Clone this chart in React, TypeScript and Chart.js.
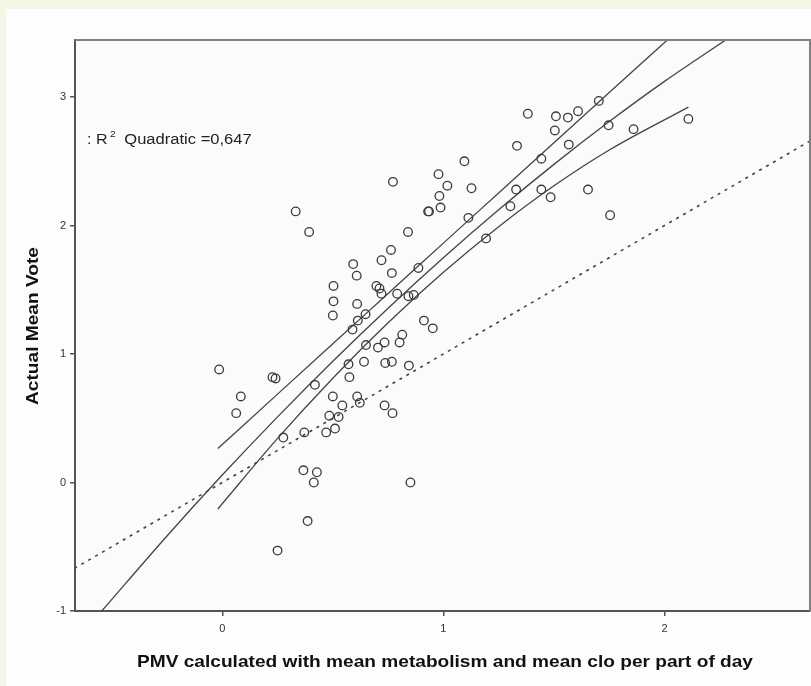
import React, { useEffect, useRef } from 'react';
import { Chart, registerables } from 'chart.js';

Chart.register(...registerables);

// Scatter points: PMV (x) vs Actual Mean Vote (y)
const pmv = [
  -0.014, 0.063, 0.084, 0.227, 0.241, 0.25, 0.276, 0.332, 0.367, 0.371, 0.386, 0.393, 0.414, 0.419,
  0.428, 0.47, 0.484, 0.5, 0.503, 0.503, 0.5, 0.51, 0.526, 0.543, 0.571, 0.575, 0.589, 0.592, 0.608,
  0.61, 0.613, 0.61, 0.622, 0.641, 0.648, 0.65, 0.697, 0.711, 0.72, 0.72, 0.704, 0.734, 0.737, 0.734,
  0.763, 0.767, 0.767, 0.772, 0.77, 0.791, 0.802, 0.814, 0.84, 0.844, 0.851, 0.842, 0.866, 0.887,
  0.912, 0.931, 0.935, 0.952, 0.978, 0.982, 0.987, 1.018, 1.095, 1.113, 1.127, 1.193, 1.303, 1.329,
  1.333, 1.382, 1.443, 1.443, 1.485, 1.504, 1.509, 1.563, 1.567, 1.609, 1.654, 1.703, 1.747, 1.754,
  1.86, 2.108,
];
const amv = [
  0.88, 0.54, 0.67, 0.82, 0.81, -0.53, 0.35, 2.11, 0.095, 0.39, -0.3, 1.95, 0.0, 0.76,
  0.08, 0.39, 0.52, 0.67, 1.53, 1.41, 1.3, 0.42, 0.51, 0.6, 0.92, 0.82, 1.19, 1.7, 1.61,
  1.39, 1.26, 0.67, 0.62, 0.94, 1.31, 1.07, 1.53, 1.51, 1.47, 1.73, 1.05, 1.09, 0.93, 0.6,
  1.81, 1.63, 0.94, 2.34, 0.54, 1.47, 1.09, 1.15, 1.95, 0.91, 0.0, 1.45, 1.46, 1.67,
  1.26, 2.11, 2.11, 1.2, 2.4, 2.23, 2.14, 2.31, 2.5, 2.06, 2.29, 1.9, 2.15, 2.28,
  2.62, 2.87, 2.28, 2.52, 2.22, 2.74, 2.85, 2.84, 2.63, 2.89, 2.28, 2.97, 2.78, 2.08,
  2.75, 2.83,
];

// Quadratic fit line
const fitX = [-0.545, -0.25, 0, 0.25, 0.5, 0.75, 1.0, 1.25, 1.5, 1.75, 2.0, 2.281];
const fitY = [-1.0, -0.416, 0.058, 0.511, 0.944, 1.357, 1.75, 2.123, 2.476, 2.809, 3.122, 3.449];

// Upper confidence band
const upperX = [-0.02, 0.25, 0.5, 0.75, 1.0, 1.25, 1.5, 1.75, 2.02];
const upperY = [0.264, 0.688, 1.08, 1.471, 1.863, 2.254, 2.645, 3.035, 3.455];

// Lower confidence band
const lowerX = [-0.02, 0.25, 0.5, 0.75, 1.0, 1.25, 1.5, 1.75, 2.108];
const lowerY = [-0.206, 0.343, 0.812, 1.243, 1.636, 1.991, 2.309, 2.588, 2.922];

// Reference line (PMV = AMV)
const refX = [-0.7, 2.7];
const refY = [-0.7, 2.7];

const xTicks = [0, 1, 2];
const yTicks = [-1, 0, 1, 2, 3];

const xTitle = 'PMV calculated with mean metabolism and mean clo per part of day';
const yTitle = 'Actual Mean Vote';
const r2Label = '0,647';

const FONT = '"Liberation Sans", Arial, sans-serif';

function zip(xs: number[], ys: number[]) {
  return xs.map((x, i) => ({ x, y: ys[i] }));
}

function scaledText(
  ctx: CanvasRenderingContext2D,
  text: string,
  x: number,
  y: number,
  font: string,
  targetWidth: number,
  align: 'left' | 'center'
) {
  ctx.save();
  ctx.font = font;
  ctx.textAlign = 'left';
  ctx.textBaseline = 'alphabetic';
  const w = ctx.measureText(text).width;
  const sx = targetWidth / w;
  const x0 = align === 'center' ? x - targetWidth / 2 : x;
  ctx.translate(x0, y);
  ctx.scale(sx, 1);
  ctx.fillText(text, 0, 0);
  ctx.restore();
}

export default function App() {
  const ref = useRef<HTMLCanvasElement | null>(null);

  useEffect(() => {
    const canvas = ref.current;
    if (!canvas) return;

    const decor = {
      id: 'decor',
      beforeDraw(chart: any) {
        const ctx = chart.ctx as CanvasRenderingContext2D;
        ctx.save();
        ctx.fillStyle = '#f5f6e6';
        ctx.fillRect(0, 0, chart.width, chart.height);
        ctx.fillStyle = '#fdfdfd';
        ctx.fillRect(6, 9, chart.width - 6, chart.height - 9);
        const a = chart.chartArea;
        ctx.fillStyle = '#fbfbfb';
        ctx.fillRect(a.left, a.top, a.right - a.left, a.bottom - a.top);
        ctx.restore();
      },
      afterDraw(chart: any) {
        const ctx = chart.ctx as CanvasRenderingContext2D;
        const a = chart.chartArea;
        ctx.save();
        // top & right frame
        ctx.strokeStyle = '#808080';
        ctx.lineWidth = 2;
        ctx.beginPath();
        ctx.moveTo(a.left, a.top);
        ctx.lineTo(a.right, a.top);
        ctx.lineTo(a.right, a.bottom);
        ctx.stroke();

        ctx.fillStyle = '#111';
        // x title
        scaledText(ctx, xTitle, 445, 667, `bold 17px ${FONT}`, 616, 'center');
        // y title
        ctx.save();
        ctx.translate(38, 326);
        ctx.rotate(-Math.PI / 2);
        scaledText(ctx, yTitle, 0, 0, `bold 17px ${FONT}`, 158, 'center');
        ctx.restore();

        // R² annotation
        ctx.fillStyle = '#222';
        scaledText(ctx, ': R', 87, 144, `14px ${FONT}`, 20.5, 'left');
        scaledText(ctx, '2', 110, 137, `9px ${FONT}`, 5.6, 'left');
        scaledText(ctx, 'Quadratic =' + r2Label, 124.3, 144, `14px ${FONT}`, 127.4, 'left');
        ctx.restore();
      },
    };

    const lineStyle = {
      showLine: true,
      pointRadius: 0,
      pointHoverRadius: 0,
      borderColor: '#444',
      borderWidth: 1.3,
      backgroundColor: 'transparent',
      fill: false,
      cubicInterpolationMode: 'monotone',
    };

    const chart = new Chart(canvas, {
      type: 'scatter',
      data: {
        datasets: [
          {
            label: 'Observed',
            data: zip(pmv, amv),
            pointStyle: 'circle',
            pointRadius: 4.3,
            pointBorderWidth: 1.3,
            pointBorderColor: '#3a3a3a',
            pointBackgroundColor: 'rgba(0,0,0,0)',
            showLine: false,
          },
          { label: 'Quadratic', data: zip(fitX, fitY), ...lineStyle },
          { label: 'Upper', data: zip(upperX, upperY), ...lineStyle },
          { label: 'Lower', data: zip(lowerX, lowerY), ...lineStyle },
          {
            label: 'PMV = AMV',
            data: zip(refX, refY),
            ...lineStyle,
            cubicInterpolationMode: 'default',
            tension: 0,
            borderWidth: 1.6,
            borderDash: [3, 5],
          },
        ] as any,
      },
      options: {
        responsive: false,
        animation: false,
        devicePixelRatio: 1,
        layout: { autoPadding: false, padding: { left: 0, top: 40, right: 1, bottom: 0 } },
        plugins: {
          legend: { display: false },
          tooltip: { enabled: false },
          title: { display: false },
        },
        scales: {
          x: {
            type: 'linear',
            min: -0.666,
            max: 2.658,
            afterBuildTicks: (s: any) => {
              s.ticks = xTicks.map((v) => ({ value: v }));
            },
            afterFit: (s: any) => {
              s.height = 75;
              s.paddingLeft = 0;
              s.paddingRight = 0;
            },
            ticks: {
              font: { family: FONT, size: 11 },
              color: '#333',
              padding: 6,
              maxRotation: 0,
              callback: (v: any) => String(v),
            },
            grid: {
              drawOnChartArea: false,
              drawTicks: true,
              tickLength: 5,
              color: '#555',
              lineWidth: 1.5,
            },
            border: { display: true, color: '#555', width: 2 },
          },
          y: {
            type: 'linear',
            min: -1,
            max: 3.444,
            afterBuildTicks: (s: any) => {
              s.ticks = yTicks.map((v) => ({ value: v }));
            },
            afterFit: (s: any) => {
              s.width = 75;
              s.paddingTop = 0;
              s.paddingBottom = 0;
            },
            ticks: {
              font: { family: FONT, size: 11 },
              color: '#333',
              padding: 4,
              callback: (v: any) => String(v),
            },
            grid: {
              drawOnChartArea: false,
              drawTicks: true,
              tickLength: 5,
              color: '#555',
              lineWidth: 1.5,
            },
            border: { display: true, color: '#555', width: 2 },
          },
        },
      } as any,
      plugins: [decor],
    });

    return () => chart.destroy();
  }, []);

  return (
    <div style={{ position: 'absolute', left: 0, top: 0, width: 811, height: 686 }}>
      <canvas ref={ref} width={811} height={686} style={{ display: 'block' }} />
    </div>
  );
}
